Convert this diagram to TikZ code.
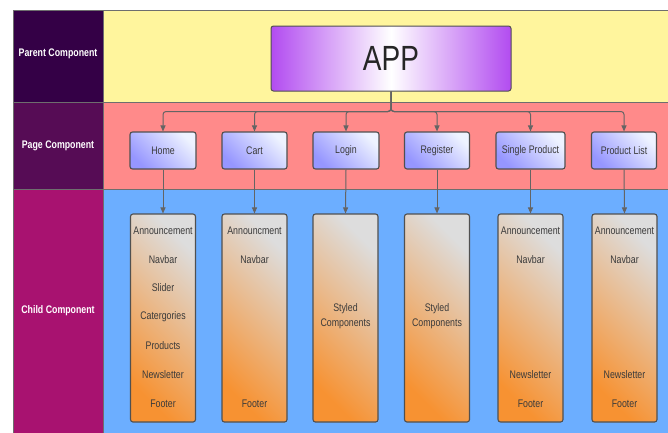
\documentclass[tikz,border=0pt]{standalone}
\usepackage{fontspec}
\setmainfont{Liberation Sans}[FakeStretch=0.8]
\usetikzlibrary{arrows.meta}
\definecolor{labparent}{RGB}{52,0,70}
\definecolor{labpage}{RGB}{86,12,85}
\definecolor{labchild}{RGB}{168,18,112}
\definecolor{rowyellow}{RGB}{255,245,157}
\definecolor{rowred}{RGB}{255,138,138}
\definecolor{rowblue}{RGB}{108,174,255}
\definecolor{gridline}{RGB}{110,110,110}
\definecolor{boxline}{RGB}{80,80,80}
\definecolor{apppurple}{RGB}{178,76,240}
\definecolor{pagelight}{RGB}{238,243,255}
\definecolor{pagedark}{RGB}{150,150,255}
\definecolor{childgray}{RGB}{221,221,221}
\definecolor{childorange}{RGB}{247,146,50}
\definecolor{txt}{RGB}{58,58,58}
\definecolor{conn}{RGB}{100,100,100}
\tikzset{
  rowlabel/.style={text=white, font=\bfseries\fontsize{11}{13}\selectfont},
  appbox/.style={draw=boxline, line width=1pt, rounded corners=2.5pt,
    left color=apppurple, right color=apppurple, middle color=white,
    minimum width=240pt, minimum height=65pt, text=black!85,
    font=\fontsize{35}{40}\selectfont},
  pagebox/.style={draw=boxline, line width=1.1pt, rounded corners=2.5pt,
    top color=pagelight, bottom color=pagedark, shading angle=-45,
    minimum height=37pt, text=txt, font=\fontsize{11}{13}\selectfont},
  childbox/.style={draw=boxline, line width=1.1pt, rounded corners=2.5pt,
    top color=childgray, bottom color=childorange, shading angle=-45,
    minimum width=65pt, minimum height=208pt},
  item/.style={text=txt, font=\fontsize{11}{15}\selectfont, align=center, inner sep=0pt},
  link/.style={draw=conn, line width=1pt, -{Triangle[length=6pt,width=5pt]}},
}
\begin{document}
\begin{tikzpicture}[x=1pt,y=-1pt]
\useasboundingbox (0,0) rectangle (668,432);
\fill[white] (0,0) rectangle (668,432);
\begin{scope}
\clip (0,0) rectangle (668,432);
% rows
\fill[rowyellow] (103,10) rectangle (680,102);
\fill[rowred] (103,102) rectangle (680,189);
\fill[rowblue] (103,189) rectangle (680,445);
\fill[labparent] (13,10) rectangle (103,102);
\fill[labpage] (13,102) rectangle (103,189);
\fill[labchild] (13,189) rectangle (103,445);
\draw[gridline, line width=1pt] (13,445) -- (13,10) -- (680,10);
\draw[gridline, line width=1pt] (13,102) -- (680,102);
\draw[gridline, line width=1pt] (13,189) -- (680,189);
\draw[gridline, line width=1pt] (103,10) -- (103,445);
\end{scope}
\node[rowlabel] (lparent) at (58,54) {Parent Component};
\node[rowlabel] (lpage) at (58,146) {Page Component};
\node[rowlabel] (lchild) at (58,311) {Child Component};
% app
\node[appbox] (app) at (391,58.5) {APP};
% page boxes
\node[pagebox, minimum width=66pt] (home) at (163,150.5) {Home};
\node[pagebox, minimum width=65pt] (cart) at (254.5,150.5) {Cart};
\node[pagebox, minimum width=66pt] (login) at (346,150.5) {Login};
\node[pagebox, minimum width=65pt] (register) at (437,150.5) {Register};
\node[pagebox, minimum width=69pt] (single) at (530.5,150.5) {Single Product};
\node[pagebox, minimum width=65pt] (plist) at (624,150.5) {Product List};
% connectors app -> pages
\foreach \p in {home,cart,login,register,single,plist}{
  \draw[link, rounded corners=3pt] (app.south) -- ++(0,20) -| (\p.north);
}
% child boxes
\node[childbox] (chome) at (163,318) {};
\node[childbox] (ccart) at (254.5,318) {};
\node[childbox] (clogin) at (345.5,318) {};
\node[childbox] (cregister) at (437,318) {};
\node[childbox] (csingle) at (530.5,318) {};
\node[childbox] (cplist) at (624.5,318) {};
\draw[link] (home.south) -- (chome.north);
\draw[link] (cart.south) -- (ccart.north);
\draw[link] (login.south) -- (clogin.north);
\draw[link] (register.south) -- (cregister.north);
\draw[link] (single.south) -- (csingle.north);
\draw[link] (plist.south) -- (cplist.north);
% child texts
\node[item] (h1) at (163,231) {Announcement};
\node[item] (h2) at (163,260) {Navbar};
\node[item] (h3) at (163,288) {Slider};
\node[item] (h4) at (163,317) {Catergories};
\node[item] (h5) at (163,346) {Products};
\node[item] (h6) at (163,375) {Newsletter};
\node[item] (h7) at (163,404) {Footer};
\node[item] (c1) at (254.5,231) {Announcment};
\node[item] (c2) at (254.5,260) {Navbar};
\node[item] (c3) at (254.5,404) {Footer};
\node[item] (l1) at (345.5,316.5) {Styled\\Components};
\node[item] (r1) at (437,316.5) {Styled\\Components};
\node[item] (s1) at (530.5,231) {Announcement};
\node[item] (s2) at (530.5,260) {Navbar};
\node[item] (s3) at (530.5,375) {Newsletter};
\node[item] (s4) at (530.5,404) {Footer};
\node[item] (p1) at (624.5,231) {Announcement};
\node[item] (p2) at (624.5,260) {Navbar};
\node[item] (p3) at (624.5,375) {Newsletter};
\node[item] (p4) at (624.5,404) {Footer};
\end{tikzpicture}
\end{document}
